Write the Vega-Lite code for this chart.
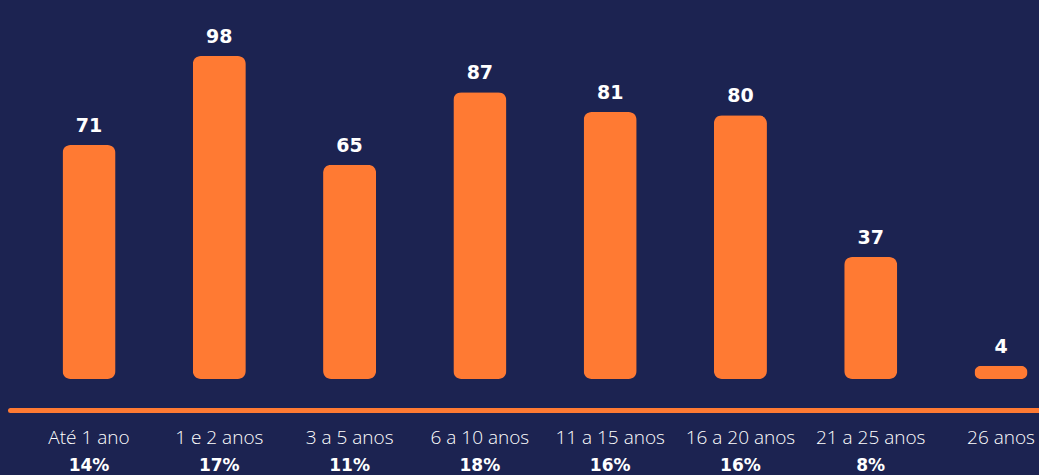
{
  "$schema": "https://vega.github.io/schema/vega-lite/v6.json",
  "autosize": {"type": "none"},
  "padding": {"left": 10, "top": 0, "right": 0, "bottom": 96},
  "width": 1070,
  "height": 379,
  "background": "#1c2351",
  "config": {"view": {"stroke": null}},
  "data": {
    "values": [
      {"faixa": "Até 1 ano", "valor": 71, "pct": "14%"},
      {"faixa": "1 e 2 anos", "valor": 98, "pct": "17%"},
      {"faixa": "3 a 5 anos", "valor": 65, "pct": "11%"},
      {"faixa": "6 a 10 anos", "valor": 87, "pct": "18%"},
      {"faixa": "11 a 15 anos", "valor": 81, "pct": "16%"},
      {"faixa": "16 a 20 anos", "valor": 80, "pct": "16%"},
      {"faixa": "21 a 25 anos", "valor": 37, "pct": "8%"},
      {"faixa": "26 anos", "valor": 4, "pct": ""}
    ]
  },
  "encoding": {
    "x": {
      "field": "faixa",
      "type": "nominal",
      "sort": null,
      "scale": {"paddingInner": 0.593, "paddingOuter": 0.403},
      "axis": {
        "title": null,
        "orient": "bottom",
        "offset": 31,
        "domainColor": "#ff7a33",
        "domainWidth": 5,
        "domainCap": "round",
        "ticks": false,
        "grid": false,
        "labelAngle": 0,
        "labelColor": "#ffffff",
        "labelFont": "Open Sans",
        "labelFontWeight": 300,
        "labelFontSize": 19,
        "labelPadding": 18,
        "labelOverlap": false
      }
    }
  },
  "layer": [
    {
      "mark": {"type": "bar", "color": "#ff7a33", "cornerRadius": 8},
      "encoding": {
        "y": {"field": "valor", "type": "quantitative", "scale": {"domain": [0, 115], "nice": false}, "axis": null}
      }
    },
    {
      "mark": {"type": "text", "color": "#ffffff", "font": "DejaVu Sans", "fontWeight": "bold", "fontSize": 19, "baseline": "bottom", "dy": -9},
      "encoding": {
        "y": {"field": "valor", "type": "quantitative"},
        "text": {"field": "valor"}
      }
    },
    {
      "mark": {"type": "text", "color": "#ffffff", "font": "DejaVu Sans", "fontWeight": "bold", "fontSize": 17, "baseline": "middle", "dy": 87},
      "encoding": {
        "y": {"datum": 0},
        "text": {"field": "pct"}
      }
    }
  ]
}
